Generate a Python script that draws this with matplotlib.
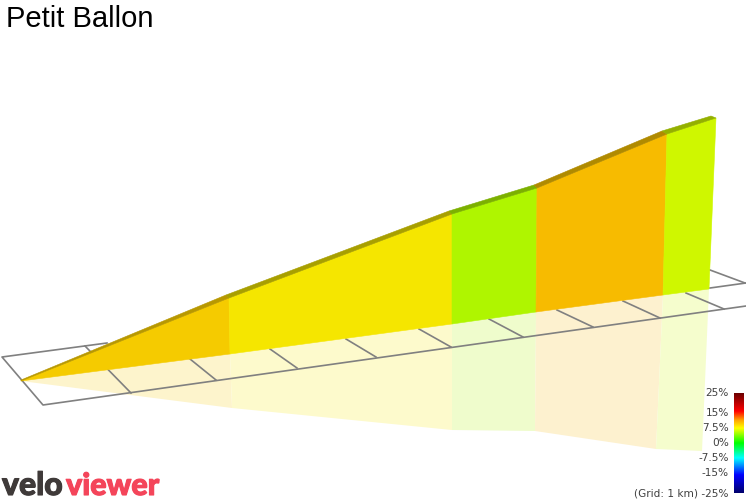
import matplotlib
matplotlib.use('Agg')
import matplotlib.pyplot as plt
import matplotlib.patheffects as pe
import numpy as np
from matplotlib.colors import LinearSegmentedColormap

# everything, in pixels (746x500 image)
ridge_top_x = [21, 226, 449, 534, 662, 711]
ridge_top_y = [380, 295, 211, 185, 131, 116]
wall_top_x = [21, 229, 452, 537, 667, 716]
wall_top_y = [381, 298, 214, 188, 134, 118]
wall_base_x = [21, 230, 452, 536, 663, 709]
wall_base_y = [381, 354, 324, 312, 295, 289]
shadow_x = [21, 232, 452, 535, 656, 702]
shadow_y = [381, 408, 430, 431, 449, 451]

wall_colors = ['#F5CB00', '#F5E600', '#AFF500', '#F7BB00', '#CFF700']
ridge_colors = ['#B89800', '#A89F00', '#7CB000', '#B08A00', '#94B000']
shadow_colors = ['#FDF4CC', '#FDFACC', '#EFFCCC', '#FDF1CF', '#F5FDCD']

# grid lines
grid_back_x = [85, 190, 270, 346, 419, 489, 557, 623, 686, 710]
grid_back_y = [346, 359, 349, 339, 329, 319, 310, 301, 293, 270]
grid_front_x = [131, 216, 297, 376, 451, 523, 593, 660, 724, 745]
grid_front_y = [393, 380, 368, 357, 347, 337, 327, 318, 309, 283]
outline_x = [746, 43, 2, 107]
outline_y = [306, 405, 357, 343]
back_right_x = [710, 746]
back_right_y = [288, 283]

legend_labels = ['25%', '15%', '7.5%', '0%', '-7.5%', '-15%', '(Grid: 1 km) -25%']
legend_y = [393, 413, 428, 443, 458, 473, 493]
bar_stops = [(0, '#6B0000'), (0.18, '#FF0000'), (0.27, '#FFA500'), (0.35, '#FFFF00'),
             (0.5, '#00FF00'), (0.65, '#00FFFF'), (0.82, '#0000FF'), (1, '#00006B')]

fig = plt.figure(figsize=(7.46, 5), dpi=100)
ax = fig.add_axes([0, 0, 1, 1])
ax.set_xlim(0, 746)
ax.set_ylim(500, 0)
ax.axis('off')

# floor shadow first, grid over it
for i in range(5):
    ax.fill([wall_base_x[i], wall_base_x[i+1], shadow_x[i+1], shadow_x[i]],
            [wall_base_y[i], wall_base_y[i+1], shadow_y[i+1], shadow_y[i]],
            color=shadow_colors[i], lw=0, zorder=1)

grid_color = '#808080'
ax.plot(outline_x, outline_y, color=grid_color, lw=1.2, zorder=2)
ax.plot(back_right_x, back_right_y, color=grid_color, lw=1.2, zorder=2)
for i in range(len(grid_back_x)):
    ax.plot([grid_back_x[i], grid_front_x[i]], [grid_back_y[i], grid_front_y[i]],
            color=grid_color, lw=1.2, zorder=2)

# wall, then the dark strip on top
for i in range(5):
    ax.fill([wall_top_x[i], wall_top_x[i+1], wall_base_x[i+1], wall_base_x[i]],
            [wall_top_y[i], wall_top_y[i+1], wall_base_y[i+1], wall_base_y[i]],
            color=wall_colors[i], lw=0.4, zorder=3)
    ax.fill([ridge_top_x[i], ridge_top_x[i+1], wall_top_x[i+1], wall_top_x[i]],
            [ridge_top_y[i], ridge_top_y[i+1], wall_top_y[i+1], wall_top_y[i]],
            color=ridge_colors[i], lw=0.4, zorder=4)

ax.text(6, 19, 'Petit Ballon', fontsize=21, family='Liberation Sans', color='black', va='center', ha='left')

# gradient legend
cmap = LinearSegmentedColormap.from_list('grade', bar_stops)
gradient = np.linspace(0, 1, 256).reshape(-1, 1)
ax.imshow(gradient, cmap=cmap, extent=[734, 744, 493, 393], aspect='auto', zorder=5)
ax.set_xlim(0, 746)
ax.set_ylim(500, 0)
for label, y in zip(legend_labels, legend_y):
    ax.text(729, y, label, fontsize=7.6, color='#404040', ha='right', va='center')

# logo
thick = [pe.withStroke(linewidth=0.8, foreground='#3F3A39')]
ax.text(2, 495, 'velo', fontsize=23, family='Lato', weight='black', color='#3F3A39',
        va='baseline', ha='left', path_effects=thick)
thick = [pe.withStroke(linewidth=0.8, foreground='#F4455A')]
ax.text(66, 495, 'viewer', fontsize=22, family='Lato', weight='black', color='#F4455A',
        va='baseline', ha='left', path_effects=thick)

plt.savefig('out.png', dpi=100)
